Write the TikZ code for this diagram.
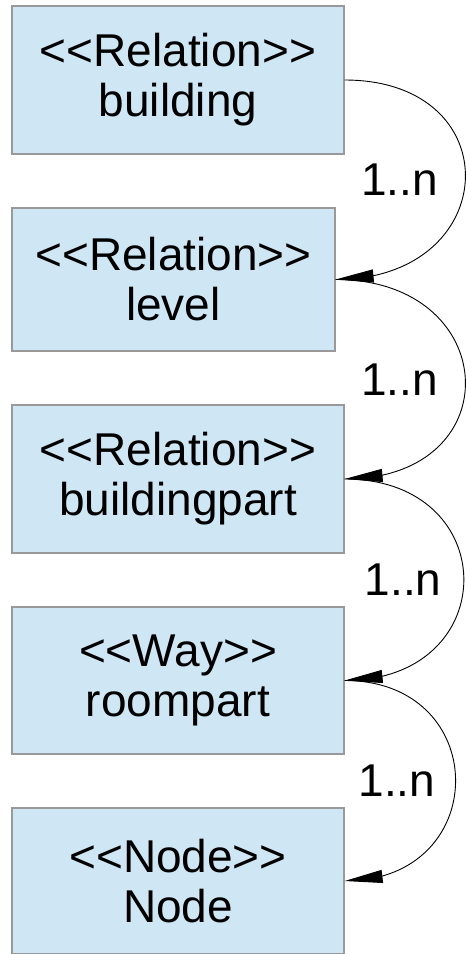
\documentclass[tikz,border=0pt]{standalone}
\usepackage{fontspec}
\setmainfont{Liberation Sans}
\usetikzlibrary{arrows.meta,bending,positioning}
\definecolor{boxblue}{HTML}{CFE7F5}
\definecolor{boxline}{HTML}{999999}
\newcommand\stereo[1]{<{}<#1>{}>}
\tikzstyle{rel} = [rectangle, minimum width=332pt, minimum height=148pt, align=center, draw=boxline, line width=1.2pt, fill=boxblue, font=\fontsize{46}{50}\selectfont]
\tikzstyle{arrow} = [line width=0.9pt,-{Triangle[length=38pt,width=13pt]}]
\tikzstyle{mult} = [inner sep=0pt, font=\fontsize{46}{50}\selectfont]

\begin{document}
\begin{tikzpicture}[x=1pt,y=-1pt] %[every node/.style={draw}]
\useasboundingbox (0,0) rectangle (466,954);
\node (building) at (178,80) [rel] {\stereo{Relation}\\building};
\node (level) at (173.5,279.5) [rel, minimum width=323pt, minimum height=143pt] {\stereo{Relation}\\level};
\node (buildingpart) at (178,479) [rel] {\stereo{Relation}\\buildingpart};
\node (roompart) at (178,680.5) [rel, minimum height=147pt] {\stereo{Way}\\roompart};
\node (osmnode) at (178,881) [rel, minimum height=146pt] {\stereo{Node}\\Node};
\draw [arrow] (building.east) .. controls +(167,0) and +(167,0) .. node [mult, left=27pt] {1..n} (level.east);
\draw [arrow] (level.east) .. controls +(167,0) and +(167,0) .. node [mult, left=27pt] {1..n} (buildingpart.east);
\draw [arrow] (buildingpart.east) .. controls +(159,0) and +(159,0) .. node [mult, left=22pt] {1..n} (roompart.east);
\draw [arrow] (roompart.east) .. controls +(148,0) and +(148,0) .. node [mult, left=20pt] {1..n} (osmnode.east);
\end{tikzpicture}
\end{document}
